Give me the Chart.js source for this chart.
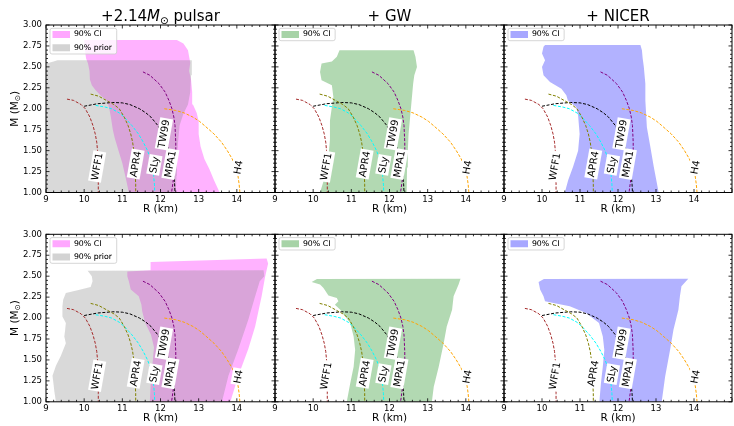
<!DOCTYPE html>
<html>
<head>
<meta charset="utf-8">
<script src="https://cdn.jsdelivr.net/npm/chart.js@4.4.1/dist/chart.umd.min.js"></script>
<style>
  body { margin: 0; background: #fff; width: 734px; height: 426px; overflow: hidden; position: relative; }
  canvas { position: absolute; }
</style>
</head>
<body>
<script>
// EOS mass-radius curves (R in km, M in Msun)
const wff1R = [9.55, 9.72, 9.92, 10.03, 10.15, 10.23, 10.29, 10.33, 10.35, 10.37, 10.37, 10.37, 10.37, 10.37];
const wff1M = [2.115, 2.10, 2.05, 2.00, 1.90, 1.80, 1.70, 1.60, 1.50, 1.40, 1.30, 1.20, 1.10, 1.00];
const apr4R = [10.17, 10.38, 10.58, 10.78, 10.92, 11.05, 11.15, 11.22, 11.27, 11.30, 11.32, 11.33, 11.34, 11.35, 11.35];
const apr4M = [2.175, 2.15, 2.10, 2.05, 2.00, 1.90, 1.80, 1.70, 1.60, 1.50, 1.40, 1.30, 1.20, 1.10, 1.00];
const slyR = [10.30, 10.55, 10.72, 10.92, 11.05, 11.25, 11.42, 11.55, 11.66, 11.74, 11.79, 11.82, 11.84, 11.85];
const slyM = [2.04, 2.02, 2.00, 1.95, 1.90, 1.80, 1.70, 1.60, 1.50, 1.40, 1.30, 1.20, 1.10, 1.00];
const tw99R = [10.0, 10.35, 10.75, 11.0, 11.2, 11.45, 11.62, 11.75, 11.93, 12.05, 12.15, 12.22, 12.28, 12.32, 12.35, 12.37, 12.38];
const tw99M = [2.03, 2.06, 2.075, 2.07, 2.05, 2.00, 1.95, 1.90, 1.80, 1.70, 1.60, 1.50, 1.40, 1.30, 1.20, 1.10, 1.00];
const mpa1R = [11.54, 11.72, 11.96, 12.12, 12.22, 12.30, 12.35, 12.38, 12.39, 12.40, 12.40, 12.39, 12.37, 12.35, 12.32, 12.29];
const mpa1M = [2.44, 2.40, 2.30, 2.20, 2.10, 2.00, 1.90, 1.80, 1.70, 1.60, 1.50, 1.40, 1.30, 1.20, 1.10, 1.00];
const h4R = [12.10, 12.40, 12.62, 12.85, 13.02, 13.15, 13.40, 13.60, 13.75, 13.88, 13.97, 14.03, 14.06, 14.08];
const h4M = [2.00, 1.98, 1.95, 1.90, 1.85, 1.80, 1.70, 1.60, 1.50, 1.40, 1.30, 1.20, 1.10, 1.00];

const eosNames = ['WFF1', 'APR4', 'SLy', 'TW99', 'MPA1', 'H4'];
const eosLabelR = [10.34, 11.35, 11.84, 12.09, 12.26, 14.04];
const eosLabelM = [1.31, 1.34, 1.33, 1.70, 1.34, 1.30];

// 90% regions: [R, M] edges, listed from top to bottom
const pulsarTopCiLeft = [[10.0, 2.82], [10.02, 2.70], [10.05, 2.60], [10.1, 2.54], [10.14, 2.45], [10.15, 2.35], [10.2, 2.28], [10.3, 2.22], [10.45, 2.15], [10.6, 2.10], [10.65, 2.02], [10.7, 1.90], [10.75, 1.75], [10.8, 1.65], [10.9, 1.50], [11.0, 1.35], [11.1, 1.15], [11.17, 1.0]];
const pulsarTopCiRight = [[12.43, 2.82], [12.6, 2.78], [12.72, 2.70], [12.78, 2.55], [12.75, 2.45], [12.8, 2.35], [12.83, 2.20], [12.85, 2.05], [12.95, 1.95], [13.0, 1.85], [13.0, 1.70], [13.05, 1.55], [13.15, 1.40], [13.28, 1.28], [13.4, 1.15], [13.55, 1.0]];
const pulsarTopPriorLeft = [[9.3, 2.58], [9.2, 2.565], [9.08, 2.55], [8.95, 2.54], [8.95, 1.0]];
const pulsarTopPriorRight = [[12.82, 2.58], [12.8, 2.40], [12.78, 2.20], [12.72, 2.05], [12.6, 1.94], [12.5, 1.80], [12.46, 1.60], [12.43, 1.40], [12.42, 1.20], [12.4, 1.0]];

const pulsarBotCiLeft = [[11.74, 2.67], [11.74, 2.57], [11.13, 2.555], [11.13, 2.50], [11.17, 2.44], [11.22, 2.34], [11.43, 2.26], [11.5, 2.16], [11.52, 2.08], [11.6, 1.94], [11.75, 1.80], [11.83, 1.65], [11.8, 1.50], [11.77, 1.38], [11.74, 1.20], [11.72, 1.0]];
const pulsarBotCiRight = [[14.78, 2.71], [14.82, 2.65], [14.74, 2.49], [14.65, 2.26], [14.48, 1.90], [14.3, 1.63], [14.04, 1.31], [13.83, 1.0]];
const pulsarBotPriorLeft = [[10.09, 2.565], [10.2, 2.50], [10.22, 2.44], [10.17, 2.37], [9.8, 2.33], [9.52, 2.30], [9.45, 2.22], [9.43, 2.14], [9.43, 2.02], [9.52, 1.94], [9.5, 1.85], [9.48, 1.78], [9.52, 1.70], [9.45, 1.62], [9.39, 1.55], [9.26, 1.43], [9.17, 1.31], [9.2, 1.20], [9.22, 1.12], [9.26, 1.0]];
const pulsarBotPriorRight = [[14.7, 2.57], [14.72, 2.50], [14.6, 2.44], [14.48, 2.26], [14.3, 1.98], [14.04, 1.63], [13.78, 1.31], [13.61, 1.0]];

const gwTopLeft = [[10.69, 2.70], [10.62, 2.62], [10.49, 2.565], [10.22, 2.54], [10.18, 2.44], [10.22, 2.34], [10.49, 2.28], [10.53, 2.14], [10.49, 2.02], [10.44, 1.86], [10.44, 1.63], [10.4, 1.43], [10.31, 1.19], [10.18, 1.0]];
const gwTopRight = [[12.63, 2.70], [12.68, 2.62], [12.72, 2.50], [12.65, 2.40], [12.62, 2.30], [12.58, 2.10], [12.54, 1.90], [12.5, 1.70], [12.48, 1.50], [12.46, 1.30], [12.45, 1.0]];
const gwBotLeft = [[10.1, 2.465], [9.96, 2.43], [10.18, 2.40], [10.27, 2.36], [10.4, 2.27], [10.62, 2.24], [10.66, 2.20], [10.57, 2.16], [10.71, 2.10], [10.97, 1.94], [11.06, 1.78], [11.1, 1.62], [11.06, 1.42], [10.97, 1.22], [10.88, 1.0]];
const gwBotRight = [[13.86, 2.47], [13.81, 2.40], [13.68, 2.26], [13.64, 2.10], [13.5, 1.90], [13.42, 1.70], [13.29, 1.42], [13.16, 1.18], [13.11, 1.0]];

const nicerTopLeft = [[10.08, 2.76], [10.04, 2.74], [10.0, 2.66], [10.08, 2.58], [10.0, 2.50], [10.04, 2.40], [10.21, 2.32], [10.51, 2.24], [10.64, 2.16], [10.68, 2.10], [10.9, 2.02], [10.95, 1.92], [10.99, 1.70], [10.95, 1.50], [10.82, 1.31], [10.69, 1.15], [10.6, 1.0]];
const nicerTopRight = [[12.59, 2.76], [12.63, 2.70], [12.65, 2.60], [12.68, 2.50], [12.72, 2.30], [12.72, 2.10], [12.76, 1.78], [12.85, 1.55], [12.94, 1.31], [13.07, 1.0]];
const nicerBotLeft = [[10.05, 2.465], [9.91, 2.43], [9.95, 2.34], [10.04, 2.26], [10.08, 2.20], [10.3, 2.18], [10.73, 2.14], [11.16, 2.06], [11.5, 1.94], [11.6, 1.78], [11.64, 1.62], [11.6, 1.42], [11.55, 1.22], [11.51, 1.0]];
const nicerBotRight = [[13.85, 2.47], [13.67, 2.38], [13.63, 2.26], [13.59, 2.10], [13.46, 1.86], [13.37, 1.62], [13.24, 1.30], [13.15, 1.0]];

const FONT = "'DejaVu Sans', sans-serif";
const eosCurves = [[wff1R, wff1M, '#a52a2a'], [apr4R, apr4M, '#808000'], [slyR, slyM, '#00ffff'],
                   [tw99R, tw99M, '#000000'], [mpa1R, mpa1M, '#800080'], [h4R, h4M, '#ffa500']];

const plotLeft = [46, 275, 504], plotRight = [275, 504, 733];
const plotTop = [25, 234.3], plotBottom = [192.5, 401.8];

const panels = [
  {c: 0, r: 0, title: 'pulsar', regions: [['90% CI', 'rgba(255,0,255,0.3)', pulsarTopCiLeft, pulsarTopCiRight], ['90% prior', 'rgba(128,128,128,0.3)', pulsarTopPriorLeft, pulsarTopPriorRight]]},
  {c: 1, r: 0, title: '+ GW', regions: [['90% CI', 'rgba(0,128,0,0.3)', gwTopLeft, gwTopRight]]},
  {c: 2, r: 0, title: '+ NICER', regions: [['90% CI', 'rgba(0,0,255,0.3)', nicerTopLeft, nicerTopRight]]},
  {c: 0, r: 1, regions: [['90% CI', 'rgba(255,0,255,0.3)', pulsarBotCiLeft, pulsarBotCiRight], ['90% prior', 'rgba(128,128,128,0.3)', pulsarBotPriorLeft, pulsarBotPriorRight]]},
  {c: 1, r: 1, regions: [['90% CI', 'rgba(0,128,0,0.3)', gwBotLeft, gwBotRight]]},
  {c: 2, r: 1, regions: [['90% CI', 'rgba(0,0,255,0.3)', nicerBotLeft, nicerBotRight]]}
];

function polygon(left, right) {
  return left.concat(right.slice().reverse()).map(p => ({x: p[0], y: p[1]}));
}

// draw a run of text pieces [text, font, baseline shift] starting at x
function drawPieces(ctx, parts, cx, by) {
  let total = 0;
  parts.forEach(p => { ctx.font = p[1]; total += ctx.measureText(p[0]).width; });
  let xx = cx - total / 2;
  parts.forEach(p => { ctx.font = p[1]; ctx.fillText(p[0], xx, by + p[2]); xx += ctx.measureText(p[0]).width; });
}

// inward ticks on all four sides, frame, EOS labels, legend on top
const decorations = {
  id: 'decorations',
  afterLayout(chart) {
    // legend inside the axes, top-left corner
    const lg = chart.legend;
    const dy = chart.chartArea.top - lg.top;
    const dx = chart.chartArea.left + 1 - lg.left;
    lg.top += dy; lg.bottom += dy;
    lg.left += dx; lg.right += dx;
    lg.legendHitBoxes.forEach(h => { h.top += dy; h.left += dx; });
  },
  afterDatasetsDraw(chart, args, opts) {
    const {ctx, chartArea: a, scales: {x, y}} = chart;
    ctx.save();
    ctx.strokeStyle = '#000';
    ctx.lineWidth = 0.8;
    ctx.beginPath();
    for (let i = 0; i <= 30; i++) {
      const px = x.getPixelForValue(9 + i * 0.2);
      const len = i % 5 === 0 ? 3.5 : 2;
      ctx.moveTo(px, a.bottom); ctx.lineTo(px, a.bottom - len);
      ctx.moveTo(px, a.top); ctx.lineTo(px, a.top + len);
    }
    for (let i = 0; i <= 40; i++) {
      const py = y.getPixelForValue(1 + i * 0.05);
      const len = i % 5 === 0 ? 3.5 : 2;
      ctx.moveTo(a.left, py); ctx.lineTo(a.left + len, py);
      ctx.moveTo(a.right, py); ctx.lineTo(a.right - len, py);
    }
    ctx.stroke();
    ctx.lineWidth = 1;
    ctx.strokeRect(a.left, a.top, a.width, a.height);

    // EOS name tags
    ctx.font = '10px ' + FONT;
    ctx.textAlign = 'center';
    ctx.textBaseline = 'middle';
    eosNames.forEach((name, i) => {
      const px = x.getPixelForValue(eosLabelR[i]);
      const py = y.getPixelForValue(eosLabelM[i]);
      const w = ctx.measureText(name).width;
      ctx.save();
      ctx.translate(px, py);
      ctx.rotate(-80 * Math.PI / 180);
      ctx.fillStyle = '#fff';
      ctx.fillRect(-w / 2 - 1.5, -6.5, w + 3, 13);
      ctx.fillStyle = '#000';
      ctx.fillText(name, 0, 0.5);
      ctx.restore();
    });

    ctx.fillStyle = '#000';
    ctx.textBaseline = 'alphabetic';
    ctx.textAlign = 'left';

    // y axis title with subscript sun symbol
    if (opts.yTitle) {
      ctx.save();
      ctx.translate(17.5, (a.top + a.bottom) / 2);
      ctx.rotate(-Math.PI / 2);
      drawPieces(ctx, [['M (M', '10.5px ' + FONT, 0], ['\u2299', '7.5px ' + FONT, 2], [')', '10.5px ' + FONT, 0]], 0, 0);
      ctx.restore();
    }

    // panel title
    if (opts.title) {
      const cx = (a.left + a.right) / 2, by = a.top - 4.5;
      if (opts.title === 'pulsar') {
        drawPieces(ctx, [['+2.14', '15px ' + FONT, 0], ['M', 'italic 15px ' + FONT, 0], ['\u2299', '10.5px ' + FONT, 3], [' pulsar', '15px ' + FONT, 0]], cx, by);
      } else {
        drawPieces(ctx, [[opts.title, '15px ' + FONT, 0]], cx, by);
      }
    }

    // legend frame, then legend again so it sits above the fills
    const lg = chart.legend;
    if (lg && lg.legendHitBoxes.length) {
      const hb = lg.legendHitBoxes;
      const l = Math.min(...hb.map(h => h.left)) - 3.5;
      const t = Math.min(...hb.map(h => h.top)) - 2.2;
      const rr = Math.max(...hb.map(h => h.left + h.width)) + 3.7;
      const b = Math.max(...hb.map(h => h.top + h.height)) + 2.4;
      ctx.beginPath();
      ctx.roundRect(l, t, rr - l, b - t, 2);
      ctx.fillStyle = 'rgba(255,255,255,0.8)';
      ctx.fill();
      ctx.strokeStyle = 'rgba(204,204,204,0.8)';
      ctx.lineWidth = 1;
      ctx.stroke();
      lg.draw();
    }
    ctx.restore();
  }
};

panels.forEach(p => {
  const cl = p.c === 0 ? 0 : plotLeft[p.c] - 12;
  const cr = Math.min(734, plotRight[p.c] + 6);
  const ct = p.r === 0 ? 0 : 212;
  const cb = p.r === 0 ? 218 : 426;
  const canvas = document.createElement('canvas');
  canvas.width = cr - cl;
  canvas.height = cb - ct;
  canvas.style.left = cl + 'px';
  canvas.style.top = ct + 'px';
  document.body.appendChild(canvas);

  const datasets = p.regions.map((reg, i) => ({
    label: reg[0],
    data: polygon(reg[2], reg[3]),
    showLine: true,
    fill: 'shape',
    backgroundColor: reg[1],
    borderColor: 'transparent',
    borderWidth: 0,
    pointRadius: 0,
    order: 10 - i
  }));
  eosCurves.forEach(cv => datasets.push({
    data: cv[0].map((r, i) => ({x: r, y: cv[1][i]})),
    showLine: true,
    fill: false,
    borderColor: cv[2],
    borderWidth: 1,
    borderDash: [3, 1.6],
    pointRadius: 0,
    order: 0
  }));

  const xHeight = cb - plotBottom[p.r];
  new Chart(canvas, {
    type: 'scatter',
    data: {datasets},
    options: {
      responsive: false,
      animation: false,
      devicePixelRatio: 1,
      layout: {padding: {left: p.c === 0 ? 0 : plotLeft[p.c] - cl, right: cr - plotRight[p.c], top: plotTop[p.r] - ct, bottom: 0}},
      scales: {
        x: {
          type: 'linear', min: 9, max: 15,
          grid: {display: false, drawTicks: false},
          border: {display: false},
          ticks: {stepSize: 1, autoSkip: false, maxRotation: 0, padding: 2, color: '#000',
                  font: {family: FONT, size: 8.5}, callback: v => v === 15 ? '' : v},
          title: {display: true, text: 'R (km)', color: '#000', font: {family: FONT, size: 10.5},
                  padding: {top: 0, bottom: p.r === 0 ? 2.7 : 1.7}},
          afterFit: s => { s.height = xHeight; }
        },
        y: {
          type: 'linear', min: 1, max: 3,
          grid: {display: false, drawTicks: false},
          border: {display: false},
          ticks: {display: p.c === 0, stepSize: 0.25, padding: 4, color: '#000',
                  font: {family: FONT, size: 8.5}, callback: v => v.toFixed(2)},
          afterFit: s => { s.width = p.c === 0 ? 46 : 0; }
        }
      },
      plugins: {
        legend: {
          position: 'chartArea',
          align: 'start',
          labels: {
            boxWidth: 17.5, boxHeight: 7, padding: 5.5, color: '#000',
            font: {family: FONT, size: 7.8},
            filter: item => !!item.text,
            sort: (a, b) => a.datasetIndex - b.datasetIndex
          }
        },
        tooltip: {enabled: false},
        decorations: {title: p.title, yTitle: p.c === 0}
      }
    },
    plugins: [decorations]
  });
});
</script>
</body>
</html>
